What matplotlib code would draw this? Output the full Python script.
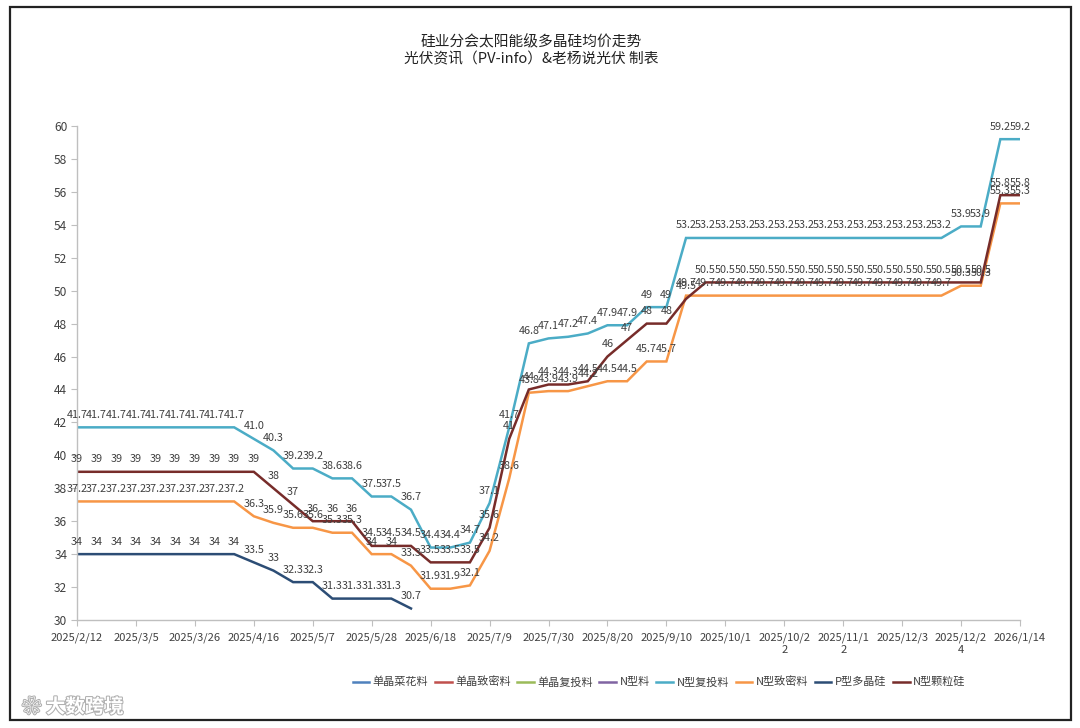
import numpy as np
import pandas as pd
import matplotlib
matplotlib.use("Agg")
import matplotlib.pyplot as plt
import matplotlib.patheffects as pe
from matplotlib.patches import Rectangle

plt.rcParams['font.family'] = ['Noto Sans CJK SC', 'DejaVu Sans']

# weekly quotes, 2025/2/12 .. 2026/1/14
dates = pd.date_range("2025-02-12", "2026-01-14", freq="7D")
tick_labels = ["2025/2/12", "2025/3/5", "2025/3/26", "2025/4/16", "2025/5/7",
               "2025/5/28", "2025/6/18", "2025/7/9", "2025/7/30", "2025/8/20",
               "2025/9/10", "2025/10/1", "2025/10/2\n2", "2025/11/1\n2",
               "2025/12/3", "2025/12/2\n4", "2026/1/14"]

n_fu_tou = ([41.7] * 9 + [41.0, 40.3, 39.2, 39.2, 38.6, 38.6, 37.5, 37.5, 36.7,
             34.4, 34.4, 34.7, 37.1, 41.7, 46.8, 47.1, 47.2, 47.4, 47.9, 47.9,
             49, 49] + [53.2] * 14 + [53.9, 53.9, 59.2, 59.2])
n_zhi_mi = ([37.2] * 9 + [36.3, 35.9, 35.6, 35.6, 35.3, 35.3, 34, 34, 33.3,
             31.9, 31.9, 32.1, 34.2, 38.6, 43.8, 43.9, 43.9, 44.2, 44.5, 44.5,
             45.7, 45.7] + [49.7] * 14 + [50.3, 50.3, 55.3, 55.3])
p_duo_jing = ([34] * 9 + [33.5, 33, 32.3, 32.3, 31.3, 31.3, 31.3, 31.3, 30.7]
              + [np.nan] * 31)
n_ke_li = ([39] * 10 + [38, 37, 36, 36, 36, 34.5, 34.5, 34.5, 33.5, 33.5, 33.5,
           35.6, 41, 44, 44.3, 44.3, 44.5, 46, 47, 48, 48, 49.5]
           + [50.5] * 15 + [55.8, 55.8])

# legend order as in the source sheet; the first four carry no data
series = [
    ("单晶菜花料", None, "#4F81BD"),
    ("单晶致密料", None, "#C0504D"),
    ("单晶复投料", None, "#9BBB59"),
    ("N型料", None, "#8064A2"),
    ("N型复投料", n_fu_tou, "#4BACC6"),
    ("N型致密料", n_zhi_mi, "#F79646"),
    ("P型多晶硅", p_duo_jing, "#2C4D75"),
    ("N型颗粒硅", n_ke_li, "#772C2A"),
]
label_override = {("N型复投料", 9): "41.0"}

fig = plt.figure(figsize=(10.8, 7.28), dpi=100)
ax = fig.add_axes([77 / 1080, 1 - 620 / 728, (1020 - 77) / 1080, (620 - 126) / 728])
x = np.arange(len(dates))

for name, vals, color in series:
    if vals is None:
        ax.plot([], [], color=color, lw=1.8, label=name)
        continue
    ax.plot(x, vals, color=color, lw=1.8, label=name, solid_joinstyle='miter',
            zorder=2)

# data labels above each point
for name, vals, color in series:
    if vals is None:
        continue
    for i, v in enumerate(vals):
        if np.isnan(v):
            continue
        txt = label_override.get((name, i), f"{v:g}")
        ax.annotate(txt, (i, v), xytext=(0, 9), textcoords='offset points',
                    ha='center', va='center', fontsize=7.8, color='#404040',
                    zorder=5)

ax.set_xlim(0, len(dates) - 1)
ax.set_ylim(30, 60)
ax.set_yticks(range(30, 61, 2))
ax.set_xticks(range(0, len(dates), 3))
ax.set_xticklabels(tick_labels, linespacing=1.25)
ax.tick_params(axis='both', direction='out', length=4, color='#BFBFBF',
               labelsize=8, labelcolor='#404040', pad=3)
ax.tick_params(axis='y', labelsize=8.6)
ax.tick_params(axis='x', pad=5)
for s in ['top', 'right']:
    ax.spines[s].set_visible(False)
for s in ['left', 'bottom']:
    ax.spines[s].set_color('#BFBFBF')
    ax.spines[s].set_linewidth(1.0)

fig.text(0.492, 1 - 42 / 728, "硅业分会太阳能级多晶硅均价走势", ha='center',
         va='center', fontsize=10.6, color='#222222')
fig.text(0.492, 1 - 59 / 728, "光伏资讯（PV-info）&老杨说光伏 制表", ha='center',
         va='center', fontsize=10.6, color='#222222')

fig.legend(loc='center', bbox_to_anchor=(659 / 1080, 1 - 682 / 728), ncol=8,
           frameon=False, fontsize=8, handlelength=1.5, handletextpad=0.3,
           columnspacing=0.6, labelcolor='#404040')

# outer frame of the screenshot
fig.add_artist(Rectangle((10 / 1080, 1 - 720 / 728), (1071 - 10) / 1080,
                         (720 - 7) / 728, transform=fig.transFigure,
                         fill=False, edgecolor='#222222', lw=1.6))

# watermark
fig.text(22 / 1080, 1 - 707 / 728, "\u2740 大数跨境", ha='left', va='center',
         fontsize=14, fontweight='bold', color='white',
         family=['Noto Sans CJK SC', 'DejaVu Sans'],
         path_effects=[pe.withStroke(linewidth=1.5, foreground='#B0B0B0')])

fig.savefig("out.png", dpi=100, facecolor='white')
